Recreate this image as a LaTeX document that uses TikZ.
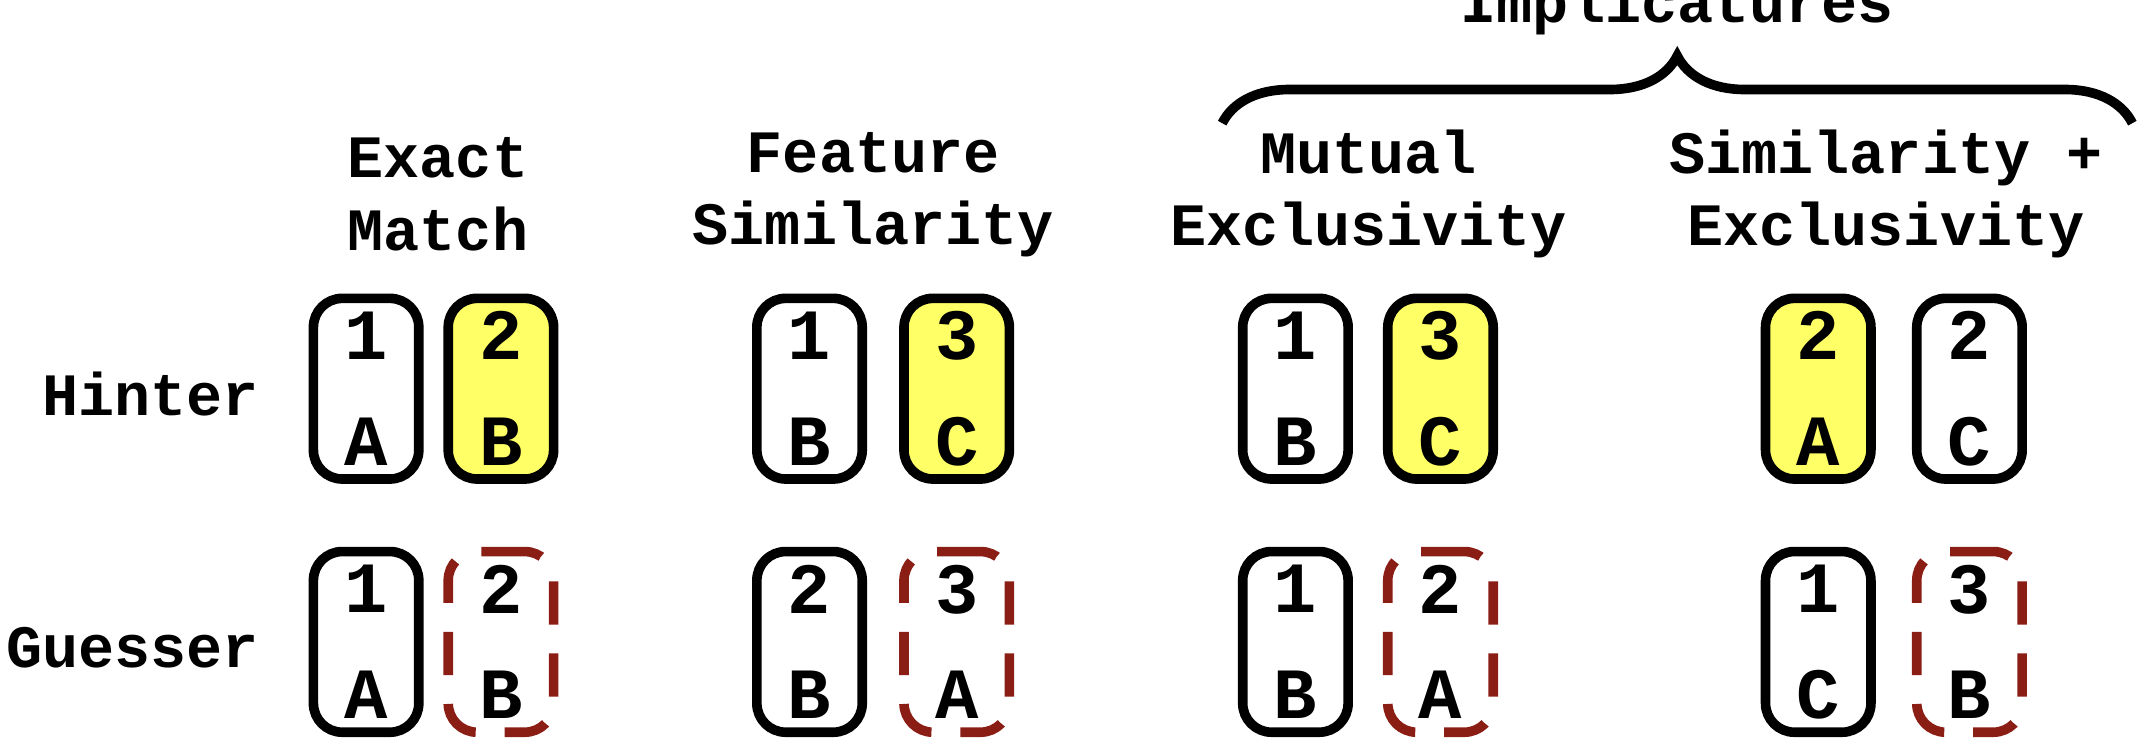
\documentclass[tikz,border=0pt]{standalone}
\usepackage{fontspec}
\setmonofont{Liberation Mono}
\usetikzlibrary{decorations.pathreplacing}
\definecolor{cardyellow}{HTML}{FFFF66}
\definecolor{darkred}{HTML}{8B1E14}

\begin{document}
\begin{tikzpicture}[
        every node/.style={font=\ttfamily\bfseries\fontsize{12.5}{15}\selectfont},
        card/.style={draw, line width=2pt, rounded corners=6pt, minimum width=0.77cm, minimum height=1.32cm, align=center, inner sep=0pt, font=\ttfamily\bfseries\fontsize{15}{22}\selectfont},
        target/.style={card, fill=cardyellow},
        guess/.style={card, draw=darkred, dash pattern=on 9pt off 6pt}
    ]
        \useasboundingbox (0,0) rectangle (15.68,5.48);

        % Row labels
        \node (hinter) at (1.1,2.60) {Hinter};
        \node (guesser) at (0.97,0.75) {Guesser};

        % Column headers
        \node[align=center] (h1) at (3.20,4.06) {Exact\\Match};
        \node[align=center] (h2) at (6.38,4.06) {Feature\\Similarity};
        \node[align=center] (h3) at (10.00,4.06) {Mutual\\Exclusivity};
        \node[align=center] (h4) at (13.78,4.06) {Similarity +\\Exclusivity};

        % Brace over the implicature columns
        \draw[line width=2pt, decorate, decoration={brace, amplitude=14pt}]
            (8.93,4.58) -- (15.58,4.58) node[midway, above=14pt] (impl) {Implicatures};

        % Hinter cards
        \foreach \n/\x/\st/\txt in {a/2.675/card/1\\A, b/3.66/target/2\\B,
                                    c/5.915/card/1\\B, d/6.99/target/3\\C,
                                    e/9.465/card/1\\B, f/10.525/target/3\\C,
                                    g/13.285/target/2\\A, h/14.39/card/2\\C} {
            \node[\st] (hint-\n) at (\x,2.64) {\txt};
        }

        % Guesser cards
        \foreach \n/\x/\st/\txt in {a/2.675/card/1\\A, b/3.66/guess/2\\B,
                                    c/5.915/card/2\\B, d/6.99/guess/3\\A,
                                    e/9.465/card/1\\B, f/10.525/guess/2\\A,
                                    g/13.285/card/1\\C, h/14.39/guess/3\\B} {
            \node[\st] (gues-\n) at (\x,0.79) {\txt};
        }
    \end{tikzpicture}
\end{document}
